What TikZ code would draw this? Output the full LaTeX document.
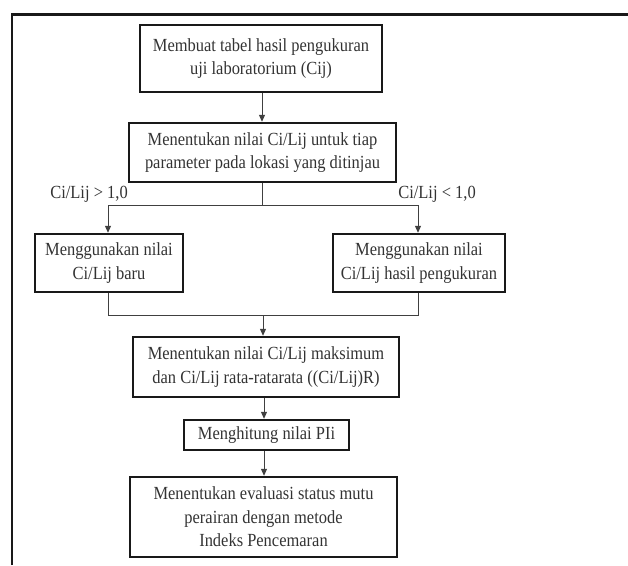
\documentclass[tikz,border=0pt]{standalone}
\usepackage{fontspec}
\setmainfont{Liberation Serif}[FakeStretch=0.89]
\usetikzlibrary{arrows.meta}
\begin{document}
\begin{tikzpicture}[x=1pt,y=-1pt,
  box/.style={draw=black!90, line width=2.4pt, align=center, inner sep=0pt, text=black!80,
    font=\fontsize{18.5}{23.5}\selectfont},
  conn/.style={draw=black!75, line width=1pt},
  arr/.style={conn, -{Triangle[length=7pt,width=6pt]}},
  lbl/.style={text=black!80, font=\fontsize{18.5}{20}\selectfont, inner sep=0pt}]
\useasboundingbox (0,0) rectangle (628,565);
\draw[line width=2.2pt, black!90] (12,565) -- (12,14.5) -- (628,14.5);
\node[box, minimum width=242pt, minimum height=67pt] (b1) at (261,58.5) {Membuat tabel hasil pengukuran\\uji laboratorium (Cij)};
\node[box, minimum width=267pt, minimum height=59pt] (b2) at (262.5,152.5) {Menentukan nilai Ci/Lij untuk tiap\\parameter pada lokasi yang ditinjau};
\node[box, minimum width=148pt, minimum height=58pt] (b3) at (109,263) {Menggunakan nilai\\Ci/Lij baru};
\node[box, minimum width=172pt, minimum height=58pt] (b4) at (419,263) {Menggunakan nilai\\Ci/Lij hasil pengukuran};
\node[box, minimum width=266pt, minimum height=60pt] (b5) at (266,367) {Menentukan nilai Ci/Lij maksimum\\dan Ci/Lij rata-ratarata ((Ci/Lij)R)};
\node[box, minimum width=165pt, minimum height=30pt] (b6) at (266.5,435) {Menghitung nilai PIi};
\node[box, minimum width=267pt, minimum height=80pt] (b7) at (263.5,517) {Menentukan evaluasi status mutu\\perairan dengan metode\\Indeks Pencemaran};
\node[lbl] (l1) at (89,194) {Ci/Lij > 1,0};
\node[lbl] (l2) at (437,194) {Ci/Lij < 1,0};
\coordinate (s) at (262,205);
\coordinate (m) at (263,315);
\draw[arr] (b1.south -| 262,0) -- (b2.north -| 262,0);
\draw[conn] (b2.south -| s) -- (s);
\draw[arr] (s) -| (b3.north -| 108,0);
\draw[arr] (s) -| (b4.north -| 418,0);
\draw[conn] (b3.south -| 108,0) |- (m);
\draw[conn] (b4.south -| 418,0) |- (m);
\draw[arr] (m) -- (b5.north -| m);
\draw[arr] (b5.south -| 264,0) -- (b6.north -| 264,0);
\draw[arr] (b6.south -| 264,0) -- (b7.north -| 264,0);
\end{tikzpicture}
\end{document}
